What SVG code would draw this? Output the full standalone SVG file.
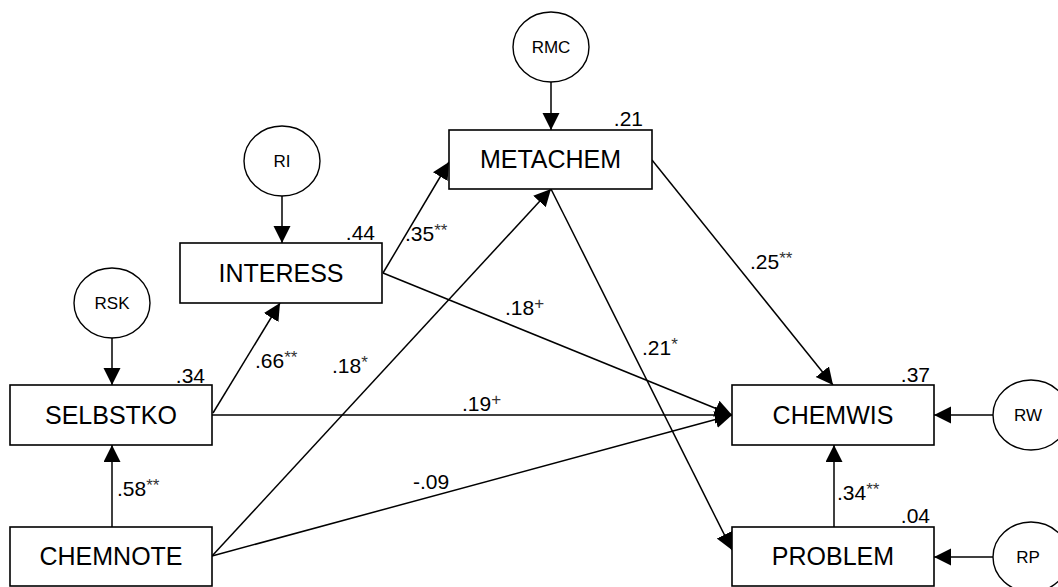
<svg xmlns="http://www.w3.org/2000/svg" width="1058" height="587" viewBox="0 0 1058 587">
<style>
.box{fill:#fff;stroke:#000;stroke-width:1.6}
.circ{fill:#fff;stroke:#000;stroke-width:1.4}
.name{font-family:"Liberation Sans",Arial,sans-serif;font-size:25px;text-anchor:middle;fill:#000}
.res{font-family:"Liberation Sans",Arial,sans-serif;font-size:17px;text-anchor:middle;fill:#000}
.lbl{font-family:"Liberation Sans",Arial,sans-serif;font-size:21px;fill:#000}
.sup{font-size:17px;fill:#333}
.end{text-anchor:end}
.edge{stroke:#000;stroke-width:1.5;fill:none;marker-end:url(#ah)}
</style>
<defs>
<marker id="ah" markerUnits="userSpaceOnUse" markerWidth="18" markerHeight="18" refX="17" refY="8.5" orient="auto">
<path d="M0,0 L17,8.5 L0,17 z" fill="#000"/>
</marker>
</defs>
<rect width="1058" height="587" fill="#fff"/>
<g id="connectors">
<line class="edge" x1="551" y1="82" x2="551" y2="130"/>
<line class="edge" x1="282" y1="196" x2="282" y2="243"/>
<line class="edge" x1="112" y1="338" x2="112" y2="385"/>
<line class="edge" x1="112" y1="527" x2="112" y2="445"/>
<line class="edge" x1="213" y1="413" x2="280" y2="303"/>
<line class="edge" x1="383" y1="273" x2="449" y2="162"/>
<line class="edge" x1="383" y1="273" x2="732" y2="415"/>
<line class="edge" x1="212" y1="415" x2="732" y2="415"/>
<line class="edge" x1="212" y1="556" x2="732" y2="415"/>
<line class="edge" x1="212" y1="556" x2="551" y2="189"/>
<line class="edge" x1="551" y1="189" x2="732" y2="550"/>
<line class="edge" x1="652" y1="160" x2="833" y2="385"/>
<line class="edge" x1="834" y1="527" x2="834" y2="445"/>
<line class="edge" x1="993" y1="415" x2="934" y2="415"/>
<line class="edge" x1="993" y1="557" x2="934" y2="557"/>
</g>
<g id="labels">
<text class="lbl" x="405" y="241">.35<tspan class="sup" dy="-5">**</tspan></text>
<text class="lbl" x="255" y="368">.66<tspan class="sup" dy="-5">**</tspan></text>
<text class="lbl" x="332" y="373">.18<tspan class="sup" dy="-5">*</tspan></text>
<text class="lbl" x="750" y="269">.25<tspan class="sup" dy="-5">**</tspan></text>
<text class="lbl" x="505" y="315">.18<tspan class="sup" dy="-6">+</tspan></text>
<text class="lbl" x="642" y="355">.21<tspan class="sup" dy="-5">*</tspan></text>
<text class="lbl" x="462" y="411">.19<tspan class="sup" dy="-6">+</tspan></text>
<text class="lbl" x="413" y="489">-.09</text>
<text class="lbl" x="117" y="496">.58<tspan class="sup" dy="-5">**</tspan></text>
<text class="lbl" x="837" y="500">.34<tspan class="sup" dy="-5">**</tspan></text>
</g>
<g id="RMC"><ellipse class="circ" cx="551" cy="47" rx="38" ry="35"/><text class="res" x="551" y="53">RMC</text></g>
<g id="RI"><ellipse class="circ" cx="282" cy="161" rx="38" ry="35"/><text class="res" x="282" y="167">RI</text></g>
<g id="RSK"><ellipse class="circ" cx="112" cy="303" rx="38" ry="35"/><text class="res" x="112" y="309">RSK</text></g>
<g id="RW"><ellipse class="circ" cx="1031" cy="415" rx="38" ry="35"/><text class="res" x="1028" y="421">RW</text></g>
<g id="RP"><ellipse class="circ" cx="1031" cy="557" rx="38" ry="35"/><text class="res" x="1028" y="563">RP</text></g>
<g id="METACHEM"><rect class="box" x="449" y="130" width="203" height="59"/><text class="name" x="550.5" y="168">METACHEM</text><text class="lbl end" x="643" y="126">.21</text></g>
<g id="INTERESS"><rect class="box" x="180" y="243" width="202" height="60"/><text class="name" x="281" y="282">INTERESS</text><text class="lbl end" x="375" y="240">.44</text></g>
<g id="SELBSTKO"><rect class="box" x="10" y="385" width="202" height="60"/><text class="name" x="111" y="424">SELBSTKO</text><text class="lbl end" x="205" y="383">.34</text></g>
<g id="CHEMNOTE"><rect class="box" x="10" y="527" width="202" height="59"/><text class="name" x="111" y="565">CHEMNOTE</text></g>
<g id="CHEMWIS"><rect class="box" x="732" y="385" width="202" height="60"/><text class="name" x="833" y="424">CHEMWIS</text><text class="lbl end" x="930" y="382">.37</text></g>
<g id="PROBLEM"><rect class="box" x="732" y="527" width="202" height="59"/><text class="name" x="833" y="565">PROBLEM</text><text class="lbl end" x="930" y="523">.04</text></g>
</svg>
